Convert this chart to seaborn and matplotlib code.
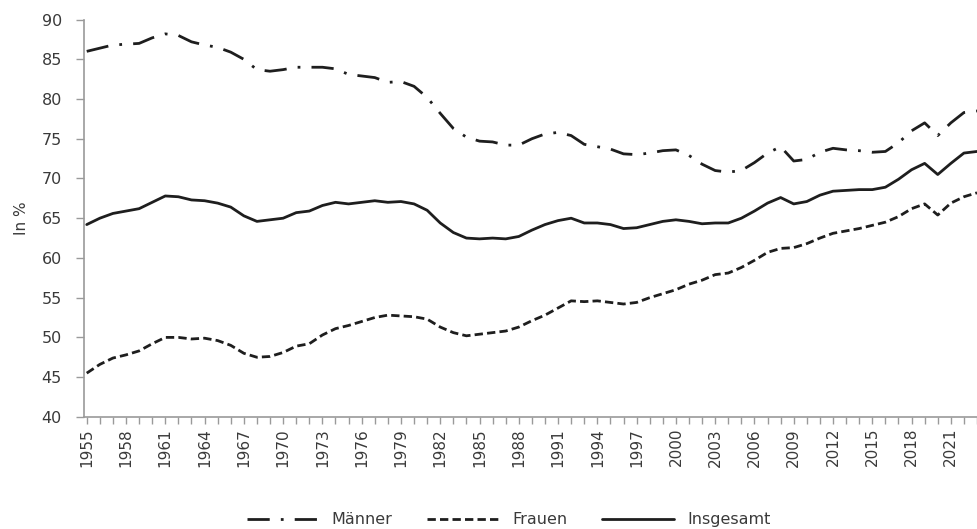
import numpy as np
import pandas as pd
import matplotlib
matplotlib.use("Agg")
import matplotlib.pyplot as plt
import seaborn as sns

years = list(range(1955, 2024))

maenner = [86.0, 86.4, 86.8, 86.9, 87.0, 87.7, 88.2, 88.0, 87.2, 86.8,
           86.5, 85.9, 85.0, 83.7, 83.5, 83.7, 84.0, 84.0, 84.0, 83.8,
           83.1, 82.9, 82.7, 82.1, 82.2, 81.6, 80.2, 78.2, 76.3, 75.2,
           74.7, 74.6, 74.2, 74.2, 75.0, 75.6, 75.8, 75.4, 74.3, 74.0,
           73.7, 73.1, 73.0, 73.2, 73.5, 73.6, 72.9, 71.8, 71.0, 70.8,
           71.0, 72.0, 73.2, 74.0, 72.2, 72.4, 73.3, 73.8, 73.6, 73.5,
           73.3, 73.4, 74.5, 76.0, 77.0, 75.4, 77.0, 78.3, 78.5]

frauen = [45.5, 46.6, 47.4, 47.8, 48.3, 49.2, 50.0, 50.0, 49.8, 49.9,
          49.6, 49.0, 48.0, 47.5, 47.6, 48.1, 48.9, 49.2, 50.3, 51.1,
          51.5, 52.0, 52.5, 52.8, 52.7, 52.6, 52.3, 51.3, 50.6, 50.2,
          50.4, 50.6, 50.8, 51.3, 52.1, 52.8, 53.7, 54.6, 54.5, 54.6,
          54.4, 54.2, 54.4, 55.0, 55.5, 56.0, 56.7, 57.2, 57.9, 58.1,
          58.8, 59.7, 60.7, 61.2, 61.3, 61.8, 62.5, 63.1, 63.4, 63.7,
          64.1, 64.5, 65.2, 66.2, 66.8, 65.4, 66.9, 67.7, 68.2]

insgesamt = [64.2, 65.0, 65.6, 65.9, 66.2, 67.0, 67.8, 67.7, 67.3, 67.2,
             66.9, 66.4, 65.3, 64.6, 64.8, 65.0, 65.7, 65.9, 66.6, 67.0,
             66.8, 67.0, 67.2, 67.0, 67.1, 66.8, 66.0, 64.4, 63.2, 62.5,
             62.4, 62.5, 62.4, 62.7, 63.5, 64.2, 64.7, 65.0, 64.4, 64.4,
             64.2, 63.7, 63.8, 64.2, 64.6, 64.8, 64.6, 64.3, 64.4, 64.4,
             65.0, 65.9, 66.9, 67.6, 66.8, 67.1, 67.9, 68.4, 68.5, 68.6,
             68.6, 68.9, 69.9, 71.1, 71.9, 70.5, 71.9, 73.2, 73.4]

series_names = ["Männer", "Frauen", "Insgesamt"]
y_ticks = list(range(40, 95, 5))
x_label_years = list(range(1955, 2022, 3))

df = pd.DataFrame({
    "Jahr": years * 3,
    "Wert": maenner + frauen + insgesamt,
    "Serie": [series_names[0]] * len(years) + [series_names[1]] * len(years)
             + [series_names[2]] * len(years),
})

sns.set_theme(style="white")
plt.rcParams["font.family"] = ["DejaVu Sans"]

fig = plt.figure(figsize=(9.78, 5.29), dpi=100)
ax = fig.add_axes([0.086, 0.212, 0.913, 0.751])

line_color = "#1e1e1e"
dash_map = {"Männer": (8, 4, 1, 4), "Frauen": (3, 1.5), "Insgesamt": ""}
sns.lineplot(data=df, x="Jahr", y="Wert", style="Serie", dashes=dash_map,
             color=line_color, linewidth=2.0, ax=ax, legend=False,
             style_order=series_names)

ax.set_xlim(1954.8, 2023.0)
ax.set_ylim(40, 90)
ax.set_yticks(y_ticks)
ax.set_xticks(x_label_years)
ax.set_xticks(years, minor=True)
ax.set_xticklabels([str(y) for y in x_label_years], rotation=90)

text_color = "#3a3a3a"
axis_color = "#9a9a9a"
for s in ["top", "right"]:
    ax.spines[s].set_visible(False)
for s in ["left", "bottom"]:
    ax.spines[s].set_color(axis_color)
    ax.spines[s].set_linewidth(1.2)

ax.tick_params(axis="x", which="both", direction="out", length=5, width=1,
               color=axis_color, bottom=True, labelsize=11, labelcolor=text_color, pad=3)
ax.tick_params(axis="y", which="major", direction="out", length=6, width=1,
               color=axis_color, left=True, labelsize=11.5, labelcolor=text_color, pad=10)

ax.set_xlabel("")
ax.set_ylabel("In %", fontsize=11, color=text_color, labelpad=9)
ax.grid(False)

handles = []
for name in series_names:
    h, = ax.plot([], [], color=line_color, linewidth=2.0)
    if dash_map[name]:
        h.set_dashes(dash_map[name])
    handles.append(h)
fig.legend(handles, series_names, loc="lower center", bbox_to_anchor=(0.52, -0.024),
           ncol=3, frameon=False, fontsize=11.5, handlelength=4.5, columnspacing=2.2,
           handletextpad=0.8, labelcolor=text_color)

fig.savefig("out.png", dpi=100, facecolor="white")
